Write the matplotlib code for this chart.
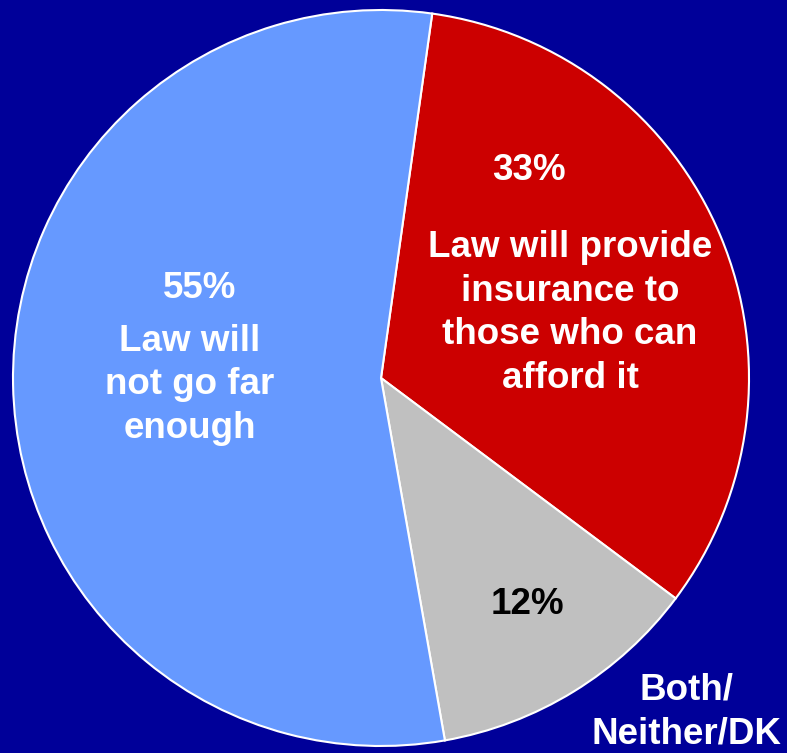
import matplotlib.pyplot as plt

# dados do gráfico
rotulos = ["Law will provide\ninsurance to\nthose who can\nafford it", "Both/\nNeither/DK", "Law will\nnot go far\nenough"]
valores = [33, 12, 55]
cores = ["#CC0000", "#C0C0C0", "#6699FF"]

W, H = 787, 753
cx, cy, r = 381, 378, 368

fig = plt.figure(figsize=(W / 100, H / 100), dpi=100)
fig.patch.set_facecolor("#000099")
ax = fig.add_axes([(cx - r) / W, (H - cy - r) / H, 2 * r / W, 2 * r / H])
ax.set_facecolor("#000099")
ax.pie(valores, colors=cores, startangle=82, counterclock=False, radius=1,
       wedgeprops=dict(edgecolor="white", linewidth=1.5))
ax.set_xlim(-1, 1)
ax.set_ylim(-1, 1)
ax.axis("off")

fonte = dict(family="Liberation Sans", weight="bold", size=26.5, ha="center", va="center")

def px(x, y):
    return x / W, 1 - y / H

fig.text(*px(529, 170), f"{valores[0]}%", color="white", **fonte)
fig.text(*px(570, 313), rotulos[0], color="white", linespacing=1.32, **fonte)
fig.text(*px(527, 605), f"{valores[1]}%", color="black", **fonte)
fig.text(*px(686, 712), rotulos[1], color="white", linespacing=1.32, **fonte)
fig.text(*px(200, 288), f"{valores[2]}%", color="white", **fonte)
fig.text(*px(190, 385), rotulos[2], color="white", linespacing=1.32, **fonte)

fig.savefig("out.png", dpi=100, facecolor=fig.get_facecolor())
